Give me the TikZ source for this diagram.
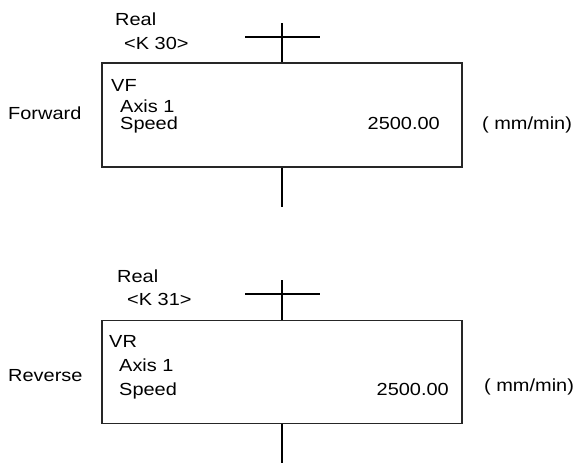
\documentclass[tikz,border=0pt]{standalone}
\usepackage{fontspec}
\setmainfont{Liberation Sans}[FakeStretch=1.14]
\begin{document}
\begin{tikzpicture}[x=1pt,y=-1pt,
  txt/.style={inner sep=0pt,anchor=base west,font=\fontsize{17.5}{20}\selectfont},
  rtxt/.style={inner sep=0pt,anchor=base east,font=\fontsize{17.5}{20}\selectfont},
  fbox/.style={draw=black!85,line width=1.1pt,minimum width=360pt,minimum height=104pt,inner sep=0pt},
  wire/.style={line width=1.1pt},
  bar/.style={line width=1.4pt}]
\useasboundingbox (0,0) rectangle (577,463);
% ---- block 1
\node[fbox] (b1) at (282,115) {};
\coordinate (t1) at (282,23);
\coordinate (e1) at (282,207);
\coordinate (bl1) at (245,37);
\coordinate (br1) at (320,37);
\draw[wire] (t1) -- (b1.north);
\draw[bar] (bl1) -- (br1);
\draw[wire] (b1.south) -- (e1);
\node[txt] (real1) at (115,25.5) {Real};
\node[txt] (k1) at (124,49.5) {<K 30>};
\node[txt] (vf) at (111,91) {VF};
\node[txt] (ax1) at (120,112) {Axis 1};
\node[txt] (sp1) at (120,129) {Speed};
\node[rtxt] (v1) at (440,129) {2500.00};
\node[txt] (u1) at (482,129) {( mm/min)};
\node[txt] (fw) at (8,119.5) {Forward};
% ---- block 2
\node[fbox,minimum height=103pt] (b2) at (282,371.7) {};
\coordinate (t2) at (282,280);
\coordinate (e2) at (282,463);
\coordinate (bl2) at (245,294);
\coordinate (br2) at (320,294);
\draw[wire] (t2) -- (b2.north);
\draw[bar,line width=1.8pt] (bl2) -- (br2);
\draw[wire] (b2.south) -- (e2);
\node[txt] (real2) at (117,282) {Real};
\node[txt] (k2) at (127,305) {<K 31>};
\node[txt] (vr) at (109,347) {VR};
\node[txt] (ax2) at (119,371.5) {Axis 1};
\node[txt] (sp2) at (119,395.5) {Speed};
\node[rtxt] (v2) at (449,395.5) {2500.00};
\node[txt] (u2) at (484,391.5) {( mm/min)};
\node[txt] (rv) at (8,381.5) {Reverse};
\end{tikzpicture}
\end{document}
